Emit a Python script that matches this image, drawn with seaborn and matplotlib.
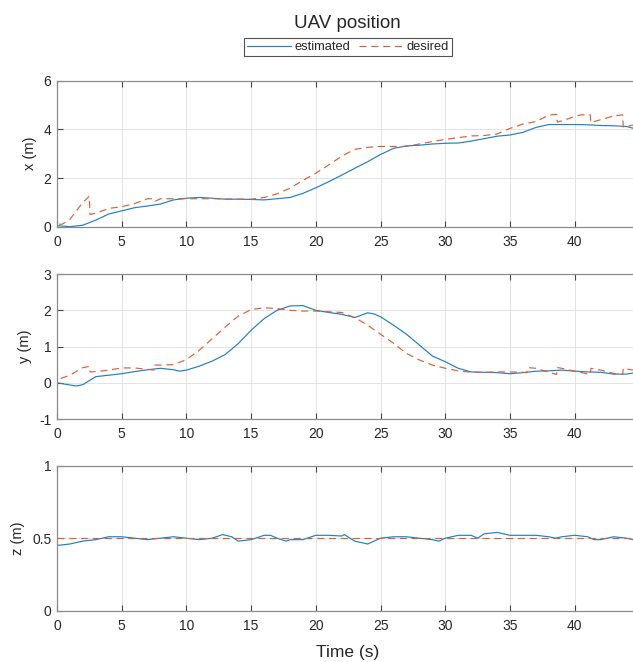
import matplotlib
matplotlib.use('Agg')
import matplotlib.pyplot as plt
import seaborn as sns
import pandas as pd

# ---- data ----
# x position
t_x_est = [0, 1, 2, 3, 4, 5, 6, 7, 8, 9, 10, 11, 12, 13, 14, 15, 16, 17, 18, 19, 20,
           21, 22, 23, 24, 25, 26, 27, 28, 29, 30, 31, 32, 33, 34, 35, 36, 37, 38, 39,
           40, 41, 42, 43, 44, 44.5]
x_est = [0.04, 0.0, 0.06, 0.27, 0.52, 0.65, 0.78, 0.85, 0.93, 1.1, 1.17, 1.2, 1.17, 1.13,
         1.13, 1.12, 1.1, 1.15, 1.2, 1.37, 1.6, 1.85, 2.12, 2.4, 2.67, 2.97, 3.22, 3.32,
         3.35, 3.4, 3.43, 3.44, 3.52, 3.62, 3.72, 3.77, 3.88, 4.08, 4.2, 4.2, 4.2, 4.19,
         4.16, 4.15, 4.12, 4.05]
t_x_des = [0, 0.02, 0.4, 1, 1.5, 2, 2.5, 2.55, 3, 4, 5, 6, 7, 7.5, 7.6, 8, 9, 10, 11, 12,
           13, 14, 15, 16, 17, 18, 19, 20, 21, 22, 23, 24, 25, 26, 27, 28, 29, 30, 31, 32,
           33, 34, 35, 36, 37, 38, 38.6, 38.65, 39, 40, 40.5, 41.2, 41.25, 42, 43, 43.7,
           43.75, 44.5]
x_des = [1.0, 0.1, 0.1, 0.3, 0.65, 1.0, 1.25, 0.5, 0.55, 0.75, 0.82, 0.95, 1.15, 1.15,
         1.05, 1.15, 1.15, 1.15, 1.15, 1.15, 1.14, 1.13, 1.13, 1.2, 1.35, 1.58, 1.9, 2.2,
         2.54, 2.9, 3.18, 3.26, 3.3, 3.3, 3.3, 3.4, 3.5, 3.59, 3.66, 3.73, 3.75, 3.81,
         4.04, 4.22, 4.32, 4.59, 4.62, 4.3, 4.35, 4.53, 4.6, 4.6, 4.28, 4.4, 4.55, 4.6,
         4.1, 4.18]

# y position
t_y_est = [0, 1, 1.5, 2, 3, 4, 5, 6, 7, 8, 9, 9.5, 10, 11, 12, 13, 14, 15, 16, 17, 18,
           19, 20, 21, 22, 23, 24, 24.5, 25, 26, 27, 28, 29, 30, 31, 32, 33, 34, 35, 36,
           37, 38, 39, 40, 41, 42, 43, 44, 44.5]
y_est = [0.0, -0.06, -0.09, -0.05, 0.17, 0.21, 0.25, 0.31, 0.36, 0.4, 0.36, 0.32, 0.35,
         0.46, 0.6, 0.78, 1.08, 1.45, 1.77, 2.0, 2.12, 2.13, 2.0, 1.94, 1.89, 1.8, 1.93,
         1.9, 1.82, 1.59, 1.34, 1.04, 0.74, 0.58, 0.4, 0.3, 0.29, 0.28, 0.25, 0.28, 0.32,
         0.33, 0.35, 0.32, 0.3, 0.29, 0.24, 0.24, 0.27]
t_y_des = [0, 0.02, 0.3, 1, 2, 2.5, 2.55, 3, 4, 5, 6, 7, 7.5, 7.55, 8, 9, 10, 11, 12, 13,
           14, 15, 16, 17, 18, 19, 20, 21, 22, 23, 24, 25, 26, 27, 28, 29, 30, 31, 32, 33,
           34, 35, 36, 36.3, 36.35, 37, 38, 38.6, 38.65, 39, 40, 41.2, 41.25, 42, 43, 43.7,
           43.75, 44.5]
y_des = [1.0, 0.12, 0.12, 0.21, 0.42, 0.45, 0.3, 0.31, 0.35, 0.41, 0.41, 0.37, 0.35, 0.49,
         0.49, 0.5, 0.64, 0.9, 1.22, 1.54, 1.84, 2.02, 2.07, 2.05, 2.0, 1.98, 1.98, 1.96,
         1.94, 1.8, 1.59, 1.34, 1.09, 0.81, 0.63, 0.49, 0.4, 0.33, 0.29, 0.29, 0.3, 0.3,
         0.29, 0.28, 0.42, 0.4, 0.29, 0.23, 0.42, 0.4, 0.32, 0.23, 0.4, 0.35, 0.26, 0.23,
         0.4, 0.35]

# z position
t_z_est = [0, 1, 2, 3, 4, 5, 6, 7, 8, 9, 10, 11, 12, 12.8, 13.5, 14, 15, 16, 16.5, 17,
           17.7, 18, 19, 20, 21, 22, 22.2, 23, 24, 25, 26, 27, 28, 29, 29.5, 30, 31, 32,
           32.5, 33, 34, 35, 36, 37, 38, 38.5, 39, 40, 41, 41.5, 42, 43, 44, 44.5]
z_est = [0.45, 0.46, 0.48, 0.49, 0.51, 0.51, 0.5, 0.49, 0.5, 0.51, 0.5, 0.49, 0.5, 0.525,
         0.51, 0.48, 0.49, 0.52, 0.52, 0.5, 0.48, 0.49, 0.49, 0.52, 0.52, 0.515, 0.525,
         0.48, 0.46, 0.5, 0.51, 0.51, 0.5, 0.49, 0.48, 0.5, 0.52, 0.52, 0.5, 0.53, 0.54,
         0.52, 0.52, 0.52, 0.51, 0.5, 0.51, 0.52, 0.51, 0.49, 0.49, 0.51, 0.5, 0.49]
t_z_des = [0, 44.5]
z_des = [0.5, 0.5]

ylabels = ['x (m)', 'y (m)', 'z (m)']
ylims = [(0, 6), (-1, 3), (0, 1)]
yticks = [[0, 2, 4, 6], [-1, 0, 1, 2, 3], [0, 0.5, 1]]
xticks = [0, 5, 10, 15, 20, 25, 30, 35, 40]

# ---- style ----
sns.set_style('ticks')
plt.rcParams['font.family'] = ['Liberation Sans', 'DejaVu Sans']

blue = '#1f7fc8'
orange = '#de6030'
spine_col = '#8c8c8c'
text_col = '#262626'

fig = plt.figure(figsize=(6.33, 6.62), dpi=100)
positions = [[0.090, 0.6576, 0.910, 0.2204],
             [0.090, 0.3670, 0.910, 0.2190],
             [0.090, 0.0775, 0.910, 0.2190]]

series = [(t_x_est, x_est, t_x_des, x_des),
          (t_y_est, y_est, t_y_des, y_des),
          (t_z_est, z_est, t_z_des, z_des)]

axes = []
for i, (te, ve, td, vd) in enumerate(series):
    ax = fig.add_axes(positions[i])
    sns.lineplot(x=te, y=ve, ax=ax, estimator=None, sort=False,
                 color=blue, linewidth=0.85, label='estimated')
    sns.lineplot(x=td, y=vd, ax=ax, estimator=None, sort=False,
                 color=orange, linewidth=0.85, linestyle=(0, (6, 4)), label='desired')
    if ax.get_legend() is not None:
        ax.get_legend().remove()
    ax.set_xlim(0, 44.5)
    ax.set_ylim(*ylims[i])
    ax.set_xticks(xticks)
    ax.set_yticks(yticks[i])
    ax.set_yticklabels([f'{v:g}' for v in yticks[i]])
    ax.grid(True, color='#e3e3e3', linewidth=0.7)
    ax.set_axisbelow(True)
    for s in ['top', 'bottom', 'left']:
        ax.spines[s].set_color(spine_col)
        ax.spines[s].set_linewidth(0.9)
    ax.spines['right'].set_visible(False)
    ax.tick_params(direction='in', top=True, right=False, length=4, width=0.8,
                   color='#444444', labelsize=10, labelcolor=text_col)
    ax.tick_params(axis='x', pad=6)
    ax.tick_params(axis='y', pad=4)
    ax.set_ylabel(ylabels[i], fontsize=10.5, color=text_col, labelpad=5)
    ax.set_xlabel('')
    axes.append(ax)

fig.text(347 / 633, 1 - 23 / 662, 'UAV position', ha='center', va='center',
         fontsize=13.5, color=text_col)
fig.text(348 / 633, 1 - 652 / 662, 'Time (s)', ha='center', va='center',
         fontsize=12.5, color=text_col)

handles = axes[0].get_lines()[:2]
leg = fig.legend(handles, ['estimated', 'desired'], loc='center', ncol=2,
                 bbox_to_anchor=(348 / 633, 1 - 47 / 662), fontsize=9.3,
                 frameon=True, fancybox=False, handlelength=3.4,
                 columnspacing=0.7, handletextpad=0.25, borderpad=0.25,
                 borderaxespad=0)
leg.get_frame().set_edgecolor('#262626')
leg.get_frame().set_linewidth(0.8)
for txt in leg.get_texts():
    txt.set_color(text_col)

fig.savefig('out.png', dpi=100)
